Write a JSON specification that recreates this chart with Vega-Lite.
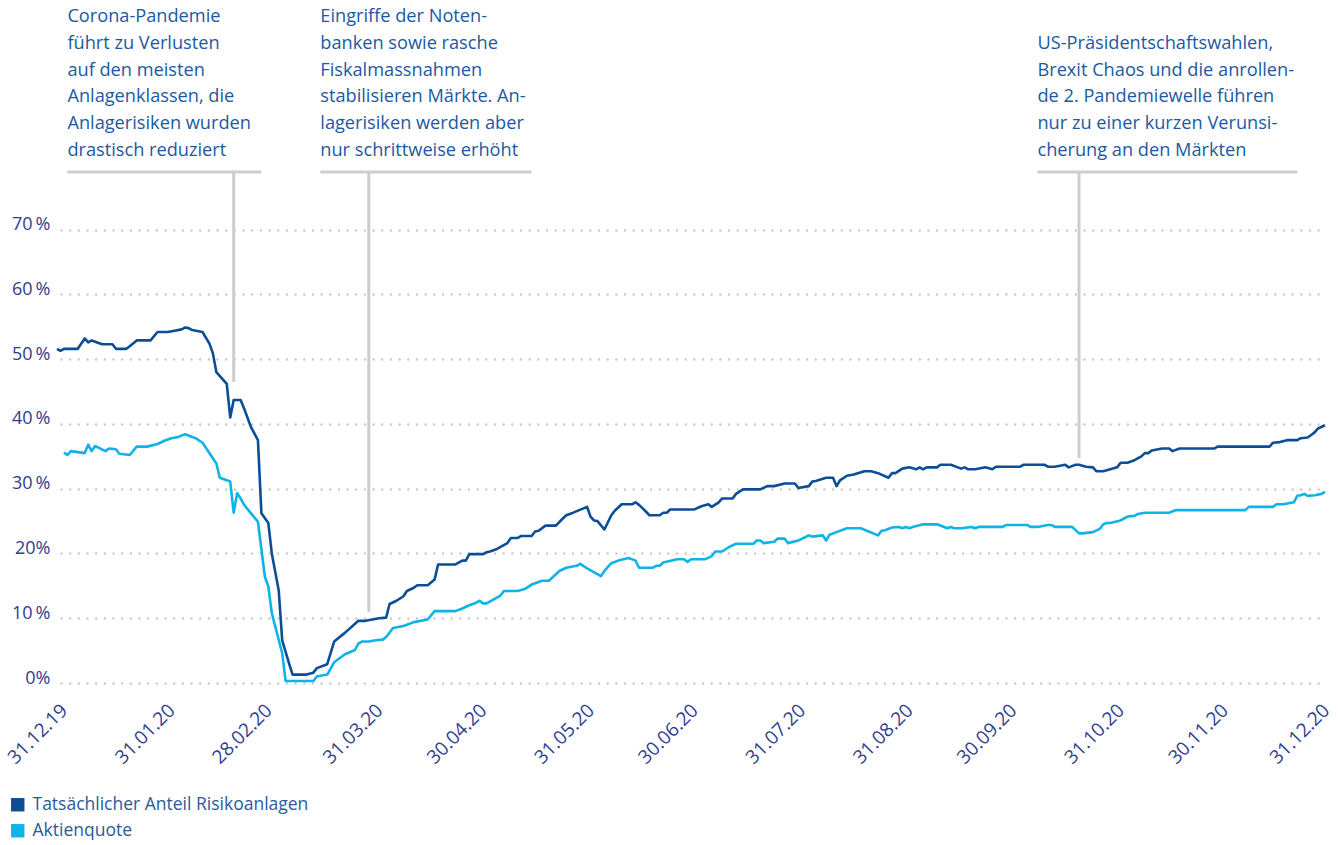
{
  "$schema": "https://vega.github.io/schema/vega-lite/v6.json",
  "width": 1268,
  "height": 680,
  "autosize": {"type": "none"},
  "padding": {"left": 57, "top": 3, "right": 13, "bottom": 162},
  "config": {"view": {"stroke": null}, "font": "Open Sans"},
  "encoding": {
    "x": {
      "field": "d", "type": "temporal",
      "scale": {"type": "utc", "domain": [{"year": 2019, "month": 12, "date": 31, "utc": true}, {"year": 2020, "month": 12, "date": 31, "utc": true}]},
      "axis": {
        "title": null, "domain": false, "ticks": false, "grid": false, "tickSize": 0,
        "format": "%d.%m.%y", "labelAngle": -45, "labelAlign": "right", "labelBaseline": "middle",
        "labelFontSize": 19, "labelColor": "#2f3d8e", "labelPadding": 24,
        "labelOffset": {"condition": {"test": "datum.index == 1", "value": 1}, "value": 7},
        "labelOverlap": false, "labelFlush": false,
        "values": [
          {"year": 2019, "month": 12, "date": 31, "utc": true},
          {"year": 2020, "month": 1, "date": 31, "utc": true},
          {"year": 2020, "month": 2, "date": 28, "utc": true},
          {"year": 2020, "month": 3, "date": 31, "utc": true},
          {"year": 2020, "month": 4, "date": 30, "utc": true},
          {"year": 2020, "month": 5, "date": 31, "utc": true},
          {"year": 2020, "month": 6, "date": 30, "utc": true},
          {"year": 2020, "month": 7, "date": 31, "utc": true},
          {"year": 2020, "month": 8, "date": 31, "utc": true},
          {"year": 2020, "month": 9, "date": 30, "utc": true},
          {"year": 2020, "month": 10, "date": 31, "utc": true},
          {"year": 2020, "month": 11, "date": 30, "utc": true},
          {"year": 2020, "month": 12, "date": 31, "utc": true}
        ]
      }
    },
    "y": {
      "field": "v", "type": "quantitative",
      "scale": {"domain": [0, 105], "nice": false, "zero": true},
      "axis": {
        "title": null, "domain": false, "ticks": false, "tickSize": 0, "labelPadding": 7,
        "values": [0, 10, 20, 30, 40, 50, 60, 70],
        "labelExpr": "(datum.value == 20 || datum.value == 0) ? datum.value + '%' : datum.value + '\u2009%'",
        "labelFontSize": 18, "labelColor": "#2f3d8e", "labelBaseline": "alphabetic",
        "grid": true, "gridColor": "#c8c8c8", "gridDash": [0, 8.67], "gridDashOffset": 4.7, "gridCap": "round", "gridWidth": 2.4
      }
    }
  },
  "layer": [
    {
      "data": {"values": [
        {"x1": "2020-01-03", "x2": "2020-02-28", "y": 78.9},
        {"x1": "2020-03-16", "x2": "2020-05-16", "y": 78.9},
        {"x1": "2020-10-09", "x2": "2020-12-23", "y": 78.9}
      ]},
      "mark": {"type": "rule", "color": "#cdcdcd", "strokeWidth": 3},
      "encoding": {
        "x": {"field": "x1", "type": "temporal"},
        "x2": {"field": "x2"},
        "y": {"field": "y", "type": "quantitative"}
      }
    },
    {
      "data": {"values": [
        {"x": "2020-02-20", "y1": 78.9, "y2": 46.5},
        {"x": "2020-03-30", "y1": 78.9, "y2": 11.0},
        {"x": "2020-10-21", "y1": 78.9, "y2": 34.7}
      ]},
      "mark": {"type": "rule", "color": "#cdcdcd", "strokeWidth": 3},
      "encoding": {
        "x": {"field": "x", "type": "temporal"},
        "y": {"field": "y1", "type": "quantitative"},
        "y2": {"field": "y2"}
      }
    },
    {
      "data": {"values": [
        {"x": "2020-01-03", "y": 102.0, "t": "Corona-Pandemie\nführt zu Verlusten\nauf den meisten\nAnlagenklassen, die\nAnlagerisiken wurden\ndrastisch reduziert"},
        {"x": "2020-03-16", "y": 102.0, "t": "Eingriffe der Noten-\nbanken sowie rasche\nFiskalmassnahmen\nstabilisieren Märkte. An-\nlagerisiken werden aber\nnur schrittweise erhöht"},
        {"x": "2020-10-09", "y": 97.9, "t": "US-Präsidentschaftswahlen,\nBrexit Chaos und die anrollen-\nde 2. Pandemiewelle führen\nnur zu einer kurzen Verunsi-\ncherung an den Märkten"}
      ]},
      "mark": {"type": "text", "align": "left", "baseline": "alphabetic", "lineBreak": "\n", "lineHeight": 26.67, "fontSize": 18.2, "color": "#1c59a2", "font": "Open Sans"},
      "encoding": {
        "x": {"field": "x", "type": "temporal"},
        "y": {"field": "y", "type": "quantitative"},
        "text": {"field": "t"}
      }
    },
    {
      "data": {"values": [
        {"d": "2019-12-31", "v": 51.6}, {"d": "2020-01-01", "v": 51.3}, {"d": "2020-01-02", "v": 51.6}, {"d": "2020-01-06", "v": 51.6},
        {"d": "2020-01-08", "v": 53.2}, {"d": "2020-01-09", "v": 52.6}, {"d": "2020-01-10", "v": 52.9}, {"d": "2020-01-13", "v": 52.3},
        {"d": "2020-01-16", "v": 52.3}, {"d": "2020-01-17", "v": 51.6}, {"d": "2020-01-20", "v": 51.6}, {"d": "2020-01-21", "v": 52.0},
        {"d": "2020-01-23", "v": 52.9}, {"d": "2020-01-27", "v": 52.9}, {"d": "2020-01-29", "v": 54.2}, {"d": "2020-02-01", "v": 54.2},
        {"d": "2020-02-05", "v": 54.6}, {"d": "2020-02-06", "v": 54.9}, {"d": "2020-02-07", "v": 54.8}, {"d": "2020-02-08", "v": 54.5},
        {"d": "2020-02-11", "v": 54.2}, {"d": "2020-02-13", "v": 52.4}, {"d": "2020-02-14", "v": 50.9}, {"d": "2020-02-15", "v": 48.0},
        {"d": "2020-02-18", "v": 46.2}, {"d": "2020-02-19", "v": 41.0}, {"d": "2020-02-20", "v": 43.7}, {"d": "2020-02-22", "v": 43.7},
        {"d": "2020-02-23", "v": 42.4}, {"d": "2020-02-25", "v": 39.5}, {"d": "2020-02-27", "v": 37.5}, {"d": "2020-02-28", "v": 26.2},
        {"d": "2020-03-01", "v": 24.7}, {"d": "2020-03-02", "v": 20.0}, {"d": "2020-03-04", "v": 14.3}, {"d": "2020-03-05", "v": 6.6},
        {"d": "2020-03-07", "v": 3.0}, {"d": "2020-03-08", "v": 1.3}, {"d": "2020-03-12", "v": 1.3}, {"d": "2020-03-14", "v": 1.6},
        {"d": "2020-03-15", "v": 2.3}, {"d": "2020-03-18", "v": 2.9}, {"d": "2020-03-20", "v": 6.4}, {"d": "2020-03-23", "v": 7.7},
        {"d": "2020-03-27", "v": 9.6}, {"d": "2020-03-29", "v": 9.6}, {"d": "2020-04-02", "v": 10.0}, {"d": "2020-04-04", "v": 10.1},
        {"d": "2020-04-05", "v": 12.2}, {"d": "2020-04-07", "v": 12.7}, {"d": "2020-04-09", "v": 13.4}, {"d": "2020-04-10", "v": 14.2},
        {"d": "2020-04-12", "v": 14.7}, {"d": "2020-04-13", "v": 15.1}, {"d": "2020-04-16", "v": 15.1}, {"d": "2020-04-18", "v": 16.0},
        {"d": "2020-04-19", "v": 18.3}, {"d": "2020-04-24", "v": 18.3}, {"d": "2020-04-26", "v": 18.9}, {"d": "2020-04-27", "v": 18.9},
        {"d": "2020-04-28", "v": 19.9}, {"d": "2020-05-02", "v": 19.9}, {"d": "2020-05-03", "v": 20.2}, {"d": "2020-05-04", "v": 20.3},
        {"d": "2020-05-06", "v": 20.7}, {"d": "2020-05-09", "v": 21.6}, {"d": "2020-05-10", "v": 22.4}, {"d": "2020-05-12", "v": 22.4},
        {"d": "2020-05-13", "v": 22.7}, {"d": "2020-05-16", "v": 22.7}, {"d": "2020-05-17", "v": 23.4}, {"d": "2020-05-18", "v": 23.5},
        {"d": "2020-05-20", "v": 24.3}, {"d": "2020-05-23", "v": 24.3}, {"d": "2020-05-25", "v": 25.4}, {"d": "2020-05-26", "v": 25.9},
        {"d": "2020-05-28", "v": 26.3}, {"d": "2020-06-01", "v": 27.2}, {"d": "2020-06-02", "v": 25.7}, {"d": "2020-06-03", "v": 25.1},
        {"d": "2020-06-04", "v": 25.0}, {"d": "2020-06-06", "v": 23.7}, {"d": "2020-06-08", "v": 25.9}, {"d": "2020-06-09", "v": 26.6},
        {"d": "2020-06-11", "v": 27.6}, {"d": "2020-06-14", "v": 27.6}, {"d": "2020-06-15", "v": 27.9}, {"d": "2020-06-16", "v": 27.5},
        {"d": "2020-06-17", "v": 27.0}, {"d": "2020-06-19", "v": 25.9}, {"d": "2020-06-22", "v": 25.9}, {"d": "2020-06-23", "v": 26.3},
        {"d": "2020-06-24", "v": 26.3}, {"d": "2020-06-25", "v": 26.8}, {"d": "2020-07-02", "v": 26.8}, {"d": "2020-07-04", "v": 27.3},
        {"d": "2020-07-06", "v": 27.6}, {"d": "2020-07-07", "v": 27.2}, {"d": "2020-07-09", "v": 27.9}, {"d": "2020-07-10", "v": 28.5},
        {"d": "2020-07-13", "v": 28.5}, {"d": "2020-07-14", "v": 29.2}, {"d": "2020-07-16", "v": 29.9}, {"d": "2020-07-21", "v": 29.9},
        {"d": "2020-07-23", "v": 30.4}, {"d": "2020-07-25", "v": 30.4}, {"d": "2020-07-28", "v": 30.8}, {"d": "2020-07-31", "v": 30.8},
        {"d": "2020-08-01", "v": 30.1}, {"d": "2020-08-04", "v": 30.4}, {"d": "2020-08-05", "v": 31.1}, {"d": "2020-08-06", "v": 31.2},
        {"d": "2020-08-09", "v": 31.7}, {"d": "2020-08-11", "v": 31.7}, {"d": "2020-08-12", "v": 30.4}, {"d": "2020-08-13", "v": 31.3},
        {"d": "2020-08-15", "v": 32.0}, {"d": "2020-08-17", "v": 32.2}, {"d": "2020-08-20", "v": 32.7}, {"d": "2020-08-22", "v": 32.7},
        {"d": "2020-08-24", "v": 32.4}, {"d": "2020-08-27", "v": 31.7}, {"d": "2020-08-28", "v": 32.4}, {"d": "2020-08-29", "v": 32.4},
        {"d": "2020-08-31", "v": 33.1}, {"d": "2020-09-02", "v": 33.3}, {"d": "2020-09-04", "v": 33.0}, {"d": "2020-09-05", "v": 33.3},
        {"d": "2020-09-06", "v": 33.0}, {"d": "2020-09-07", "v": 33.3}, {"d": "2020-09-10", "v": 33.3}, {"d": "2020-09-11", "v": 33.7},
        {"d": "2020-09-14", "v": 33.7}, {"d": "2020-09-17", "v": 33.1}, {"d": "2020-09-18", "v": 33.3}, {"d": "2020-09-19", "v": 33.0},
        {"d": "2020-09-21", "v": 33.0}, {"d": "2020-09-24", "v": 33.3}, {"d": "2020-09-26", "v": 33.0}, {"d": "2020-09-27", "v": 33.4},
        {"d": "2020-10-04", "v": 33.4}, {"d": "2020-10-05", "v": 33.7}, {"d": "2020-10-11", "v": 33.7}, {"d": "2020-10-12", "v": 33.4},
        {"d": "2020-10-14", "v": 33.4}, {"d": "2020-10-17", "v": 33.7}, {"d": "2020-10-18", "v": 33.3}, {"d": "2020-10-20", "v": 33.7},
        {"d": "2020-10-21", "v": 33.7}, {"d": "2020-10-23", "v": 33.4}, {"d": "2020-10-25", "v": 33.3}, {"d": "2020-10-26", "v": 32.7},
        {"d": "2020-10-28", "v": 32.7}, {"d": "2020-10-30", "v": 33.0}, {"d": "2020-11-01", "v": 33.3}, {"d": "2020-11-02", "v": 34.0},
        {"d": "2020-11-04", "v": 34.0}, {"d": "2020-11-06", "v": 34.4}, {"d": "2020-11-08", "v": 35.0}, {"d": "2020-11-09", "v": 35.5},
        {"d": "2020-11-10", "v": 35.5}, {"d": "2020-11-11", "v": 35.9}, {"d": "2020-11-14", "v": 36.2}, {"d": "2020-11-16", "v": 36.2},
        {"d": "2020-11-17", "v": 35.8}, {"d": "2020-11-19", "v": 36.2}, {"d": "2020-11-29", "v": 36.2}, {"d": "2020-11-30", "v": 36.5},
        {"d": "2020-12-15", "v": 36.5}, {"d": "2020-12-16", "v": 37.1}, {"d": "2020-12-18", "v": 37.2}, {"d": "2020-12-20", "v": 37.5},
        {"d": "2020-12-23", "v": 37.5}, {"d": "2020-12-24", "v": 37.8}, {"d": "2020-12-26", "v": 37.9}, {"d": "2020-12-27", "v": 38.3},
        {"d": "2020-12-28", "v": 38.7}, {"d": "2020-12-29", "v": 39.3}, {"d": "2020-12-31", "v": 39.8}
      ]},
      "mark": {"type": "line", "strokeWidth": 2.6, "strokeJoin": "round"},
      "encoding": {"color": {
        "datum": "Tatsächlicher Anteil Risikoanlagen", "type": "nominal",
        "scale": {"domain": ["Tatsächlicher Anteil Risikoanlagen", "Aktienquote"], "range": ["#0b4e96", "#10b3e8"]},
        "legend": {
          "title": null, "orient": "none", "legendX": -48, "legendY": 793, "direction": "vertical",
          "symbolType": "square", "symbolSize": 180, "symbolStrokeWidth": 0, "symbolOpacity": 1,
          "labelFontSize": 17.5, "labelColor": "#2a5a9c", "labelFont": "Open Sans", "labelOffset": 6, "rowPadding": 7, "labelLimit": 0,
          "encode": {"symbols": {"update": {"fill": {"scale": "color", "field": "value"}, "fillOpacity": {"value": 1}, "strokeWidth": {"value": 0}}}}
        }
      }}
    },
    {
      "data": {"values": [
        {"d": "2020-01-02", "v": 35.6}, {"d": "2020-01-03", "v": 35.2}, {"d": "2020-01-04", "v": 35.8}, {"d": "2020-01-08", "v": 35.5},
        {"d": "2020-01-09", "v": 36.8}, {"d": "2020-01-10", "v": 35.8}, {"d": "2020-01-11", "v": 36.6}, {"d": "2020-01-14", "v": 35.8},
        {"d": "2020-01-15", "v": 36.2}, {"d": "2020-01-17", "v": 36.1}, {"d": "2020-01-18", "v": 35.4}, {"d": "2020-01-21", "v": 35.2},
        {"d": "2020-01-23", "v": 36.5}, {"d": "2020-01-26", "v": 36.5}, {"d": "2020-01-29", "v": 36.9}, {"d": "2020-01-31", "v": 37.4},
        {"d": "2020-02-02", "v": 37.8}, {"d": "2020-02-04", "v": 38.0}, {"d": "2020-02-06", "v": 38.4}, {"d": "2020-02-09", "v": 37.8},
        {"d": "2020-02-11", "v": 37.1}, {"d": "2020-02-15", "v": 33.9}, {"d": "2020-02-16", "v": 31.7}, {"d": "2020-02-19", "v": 31.1},
        {"d": "2020-02-20", "v": 26.3}, {"d": "2020-02-21", "v": 29.3}, {"d": "2020-02-22", "v": 28.5}, {"d": "2020-02-23", "v": 27.5},
        {"d": "2020-02-27", "v": 24.9}, {"d": "2020-02-29", "v": 16.4}, {"d": "2020-03-01", "v": 14.9}, {"d": "2020-03-02", "v": 10.8},
        {"d": "2020-03-05", "v": 4.6}, {"d": "2020-03-06", "v": 0.3}, {"d": "2020-03-14", "v": 0.3}, {"d": "2020-03-15", "v": 1.0},
        {"d": "2020-03-18", "v": 1.3}, {"d": "2020-03-20", "v": 3.2}, {"d": "2020-03-23", "v": 4.4}, {"d": "2020-03-26", "v": 5.1},
        {"d": "2020-03-27", "v": 6.1}, {"d": "2020-03-28", "v": 6.4}, {"d": "2020-03-30", "v": 6.4}, {"d": "2020-04-01", "v": 6.6},
        {"d": "2020-04-03", "v": 6.7}, {"d": "2020-04-04", "v": 7.1}, {"d": "2020-04-06", "v": 8.5}, {"d": "2020-04-09", "v": 8.8},
        {"d": "2020-04-12", "v": 9.4}, {"d": "2020-04-16", "v": 9.8}, {"d": "2020-04-18", "v": 11.1}, {"d": "2020-04-24", "v": 11.1},
        {"d": "2020-04-26", "v": 11.5}, {"d": "2020-04-28", "v": 12.0}, {"d": "2020-04-30", "v": 12.4}, {"d": "2020-05-01", "v": 12.7},
        {"d": "2020-05-02", "v": 12.3}, {"d": "2020-05-03", "v": 12.3}, {"d": "2020-05-07", "v": 13.5}, {"d": "2020-05-08", "v": 14.2},
        {"d": "2020-05-12", "v": 14.2}, {"d": "2020-05-14", "v": 14.5}, {"d": "2020-05-16", "v": 15.2}, {"d": "2020-05-19", "v": 15.8},
        {"d": "2020-05-21", "v": 15.8}, {"d": "2020-05-24", "v": 17.3}, {"d": "2020-05-26", "v": 17.8}, {"d": "2020-05-29", "v": 18.1},
        {"d": "2020-05-30", "v": 18.4}, {"d": "2020-06-01", "v": 17.7}, {"d": "2020-06-05", "v": 16.5}, {"d": "2020-06-06", "v": 17.3},
        {"d": "2020-06-08", "v": 18.5}, {"d": "2020-06-10", "v": 18.9}, {"d": "2020-06-13", "v": 19.3}, {"d": "2020-06-15", "v": 18.9},
        {"d": "2020-06-16", "v": 17.8}, {"d": "2020-06-20", "v": 17.8}, {"d": "2020-06-21", "v": 18.1}, {"d": "2020-06-22", "v": 18.1},
        {"d": "2020-06-23", "v": 18.6}, {"d": "2020-06-27", "v": 19.1}, {"d": "2020-06-29", "v": 19.1}, {"d": "2020-06-30", "v": 18.7},
        {"d": "2020-07-01", "v": 19.1}, {"d": "2020-07-05", "v": 19.1}, {"d": "2020-07-07", "v": 19.6}, {"d": "2020-07-08", "v": 20.3},
        {"d": "2020-07-10", "v": 20.3}, {"d": "2020-07-12", "v": 21.0}, {"d": "2020-07-14", "v": 21.5}, {"d": "2020-07-19", "v": 21.5},
        {"d": "2020-07-20", "v": 22.0}, {"d": "2020-07-21", "v": 22.0}, {"d": "2020-07-22", "v": 21.6}, {"d": "2020-07-25", "v": 21.8},
        {"d": "2020-07-26", "v": 22.3}, {"d": "2020-07-28", "v": 22.3}, {"d": "2020-07-29", "v": 21.6}, {"d": "2020-08-01", "v": 22.0},
        {"d": "2020-08-04", "v": 22.8}, {"d": "2020-08-05", "v": 22.6}, {"d": "2020-08-08", "v": 22.8}, {"d": "2020-08-09", "v": 22.0},
        {"d": "2020-08-10", "v": 22.9}, {"d": "2020-08-12", "v": 23.3}, {"d": "2020-08-15", "v": 23.9}, {"d": "2020-08-19", "v": 23.9},
        {"d": "2020-08-24", "v": 22.8}, {"d": "2020-08-25", "v": 23.5}, {"d": "2020-08-26", "v": 23.6}, {"d": "2020-08-28", "v": 24.0},
        {"d": "2020-08-30", "v": 24.1}, {"d": "2020-08-31", "v": 23.9}, {"d": "2020-09-01", "v": 24.1}, {"d": "2020-09-02", "v": 23.9},
        {"d": "2020-09-03", "v": 24.1}, {"d": "2020-09-06", "v": 24.5}, {"d": "2020-09-10", "v": 24.5}, {"d": "2020-09-13", "v": 23.9},
        {"d": "2020-09-14", "v": 24.1}, {"d": "2020-09-15", "v": 23.9}, {"d": "2020-09-17", "v": 23.9}, {"d": "2020-09-20", "v": 24.1},
        {"d": "2020-09-21", "v": 23.9}, {"d": "2020-09-22", "v": 24.1}, {"d": "2020-09-29", "v": 24.1}, {"d": "2020-09-30", "v": 24.4},
        {"d": "2020-10-06", "v": 24.4}, {"d": "2020-10-07", "v": 24.1}, {"d": "2020-10-09", "v": 24.1}, {"d": "2020-10-12", "v": 24.4},
        {"d": "2020-10-13", "v": 24.4}, {"d": "2020-10-14", "v": 24.1}, {"d": "2020-10-19", "v": 24.1}, {"d": "2020-10-21", "v": 23.1},
        {"d": "2020-10-22", "v": 23.1}, {"d": "2020-10-25", "v": 23.3}, {"d": "2020-10-27", "v": 23.8}, {"d": "2020-10-28", "v": 24.5},
        {"d": "2020-10-29", "v": 24.7}, {"d": "2020-10-30", "v": 24.7}, {"d": "2020-11-02", "v": 25.1}, {"d": "2020-11-03", "v": 25.4},
        {"d": "2020-11-04", "v": 25.7}, {"d": "2020-11-06", "v": 25.8}, {"d": "2020-11-07", "v": 26.1}, {"d": "2020-11-09", "v": 26.3},
        {"d": "2020-11-16", "v": 26.3}, {"d": "2020-11-18", "v": 26.7}, {"d": "2020-12-08", "v": 26.7}, {"d": "2020-12-09", "v": 27.2},
        {"d": "2020-12-16", "v": 27.2}, {"d": "2020-12-17", "v": 27.6}, {"d": "2020-12-19", "v": 27.6}, {"d": "2020-12-22", "v": 27.9},
        {"d": "2020-12-23", "v": 28.9}, {"d": "2020-12-24", "v": 29.0}, {"d": "2020-12-25", "v": 29.2}, {"d": "2020-12-26", "v": 28.9},
        {"d": "2020-12-28", "v": 29.0}, {"d": "2020-12-30", "v": 29.2}, {"d": "2020-12-31", "v": 29.5}
      ]},
      "mark": {"type": "line", "strokeWidth": 2.6, "strokeJoin": "round"},
      "encoding": {"color": {"datum": "Aktienquote", "type": "nominal"}}
    }
  ],
  "resolve": {"scale": {"color": "shared"}}
}
